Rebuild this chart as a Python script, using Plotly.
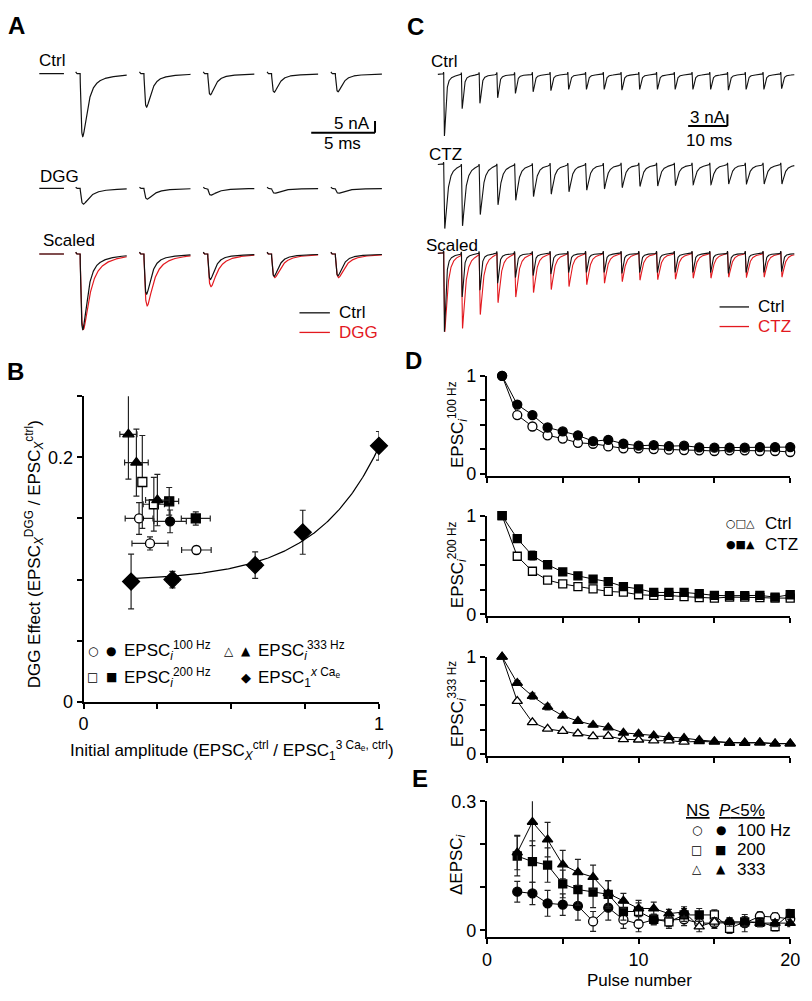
import numpy as np
import plotly.graph_objects as go

W, H = 812, 1001
FONT = "Liberation Sans, Arial, Helvetica, sans-serif"
SYM = "DejaVu Sans, sans-serif"
RED = "#e3191f"
INK = "#111111"

# ===================== DATA =====================
# Panel A: peak amplitudes (nA) of first five EPSCs, control and DGG
a_ctrl_amp = [26.7, 14.2, 9.0, 7.9, 7.7]
a_dgg_amp = [6.7, 4.6, 2.9, 2.1, 2.1]

# Panel C: peak amplitudes (nA) of 20 EPSCs in a train, control and CTZ
c_ctrl_amp = [15.7, 8.6, 7.3, 5.9, 4.8, 4.4, 4.1, 3.8, 3.8, 3.8,
              4.0, 3.8, 3.8, 3.8, 3.8, 3.8, 4.0, 3.8, 3.8, 3.6]
c_ctz_amp = [16.3, 15.2, 12.3, 9.9, 8.8, 7.9, 7.3, 6.7, 6.3, 6.0,
             5.7, 5.4, 5.3, 5.2, 5.0, 5.0, 4.8, 4.8, 4.8, 4.8]

# Panel B: DGG effect vs initial amplitude
b100_open_x = [0.188, 0.225, 0.382]
b100_open_y = [0.150, 0.1296, 0.1242]
b100_open_xe = [0.047, 0.061, 0.050]
b100_open_ye = [0.013, 0.0054, 0.003]
b100_fill_x = [0.293]
b100_fill_y = [0.1476]
b100_fill_xe = [0.055]
b100_fill_ye = [0.0093]
b200_open_x = [0.199, 0.238]
b200_open_y = [0.1798, 0.1616]
b200_open_xe = [0.010, 0.036]
b200_open_ye = [0.038, 0.022]
b200_fill_x = [0.290, 0.380]
b200_fill_y = [0.164, 0.150]
b200_fill_xe = [0.032, 0.049]
b200_fill_ye = [0.0113, 0.0054]
b333_fill_x = [0.152, 0.179, 0.250]
b333_fill_y = [0.2188, 0.1957, 0.165]
b333_fill_xe = [0.029, 0.040, 0.040]
b333_fill_ye = [0.0366, 0.0274, 0.021]
bca_x = [0.161, 0.301, 0.581, 0.742, 1.0]
bca_y = [0.0984, 0.100, 0.1118, 0.1387, 0.2094]
bca_xe = [0.004, 0.020, 0.020, 0.017, 0.004]
bca_ye = [0.0224, 0.0067, 0.0108, 0.018, 0.0117]
# exponential fit through the x Ca_e points: y = y0 + a*exp(x/tau)
fit_y0, fit_a, fit_tau, fit_x0 = 0.0985, 0.00105, 0.215, 0.161

# Panel D: normalized EPSC_i, pulses 1..20
pulses = list(range(1, 21))
d100_ctrl = [1, 0.60, 0.483, 0.393, 0.36, 0.317, 0.307, 0.28, 0.26, 0.26,
             0.253, 0.247, 0.243, 0.24, 0.233, 0.24, 0.24, 0.233, 0.233, 0.223]
d100_ctz = [1, 0.707, 0.60, 0.473, 0.433, 0.393, 0.333, 0.347, 0.307, 0.287,
            0.293, 0.283, 0.287, 0.27, 0.267, 0.267, 0.267, 0.273, 0.273, 0.273]
d200_ctrl = [1, 0.589, 0.437, 0.348, 0.308, 0.281, 0.258, 0.232, 0.225, 0.199,
             0.192, 0.192, 0.179, 0.17, 0.165, 0.175, 0.175, 0.17, 0.165, 0.165]
d200_ctz = [1, 0.768, 0.596, 0.503, 0.43, 0.39, 0.358, 0.331, 0.281, 0.258,
            0.222, 0.222, 0.222, 0.209, 0.192, 0.189, 0.189, 0.192, 0.175, 0.199]
d333_ctrl = [1, 0.545, 0.327, 0.259, 0.236, 0.212, 0.182, 0.185, 0.152, 0.148,
             0.138, 0.138, 0.125, 0.131, 0.125, 0.114, 0.114, 0.118, 0.108, 0.108]
d333_ctz = [1, 0.731, 0.596, 0.485, 0.394, 0.34, 0.30, 0.273, 0.219, 0.209,
            0.192, 0.175, 0.165, 0.145, 0.131, 0.118, 0.118, 0.118, 0.108, 0.108]
d_ctrl_err = [0, 0.015, 0.012, 0.01, 0.01, 0.01, 0.01, 0.01, 0.008, 0.008,
              0.008, 0.008, 0.008, 0.008, 0.008, 0.008, 0.008, 0.008, 0.008, 0.008]
d100_ctz_err = [0, 0.012, 0.015, 0.015, 0.012, 0.012, 0.01, 0.012, 0.01, 0.01,
                0.01, 0.01, 0.01, 0.01, 0.01, 0.01, 0.01, 0.01, 0.01, 0.01]
d200_ctz_err = [0, 0.02, 0.045, 0.03, 0.02, 0.02, 0.015, 0.015, 0.012, 0.012,
                0.01, 0.01, 0.01, 0.01, 0.01, 0.01, 0.01, 0.01, 0.01, 0.01]
d333_ctz_err = [0, 0.025, 0.03, 0.03, 0.02, 0.015, 0.015, 0.012, 0.012, 0.01,
                0.01, 0.01, 0.01, 0.01, 0.01, 0.01, 0.01, 0.01, 0.01, 0.01]

# Panel E: delta EPSC_i (CTZ - Ctrl), pulses 2..20
e_pulses = list(range(2, 21))
e100 = [0.090, 0.086, 0.063, 0.060, 0.057, 0.021, 0.053, 0.025, 0.015, 0.025,
        0.024, 0.026, 0.017, 0.017, 0.018, 0.017, 0.033, 0.031, 0.027]
e100_err = [0.024, 0.026, 0.030, 0.025, 0.033, 0.023, 0.029, 0.020, 0.018, 0.012,
            0.015, 0.015, 0.012, 0.012, 0.010, 0.020, 0.010, 0.010, 0.010]
e100_sig = [1, 1, 1, 1, 1, 0, 1, 0, 0, 1, 0, 0, 0, 0, 1, 1, 0, 0, 0]
e200 = [0.173, 0.160, 0.152, 0.108, 0.095, 0.089, 0.084, 0.044, 0.044, 0.026,
        0.020, 0.036, 0.036, 0.036, 0.005, 0.020, 0.019, 0.009, 0.039]
e200_err = [0.046, 0.048, 0.040, 0.032, 0.036, 0.036, 0.032, 0.020, 0.020, 0.012,
            0.015, 0.015, 0.015, 0.012, 0.012, 0.012, 0.010, 0.010, 0.010]
e200_sig = [1, 1, 1, 1, 1, 1, 1, 1, 0, 1, 0, 1, 1, 0, 0, 1, 1, 0, 1]
e333 = [0.181, 0.252, 0.211, 0.153, 0.135, 0.124, 0.086, 0.069, 0.051, 0.051,
        0.039, 0.043, 0.009, 0.020, 0.020, 0.020, 0.017, 0.017, 0.017]
e333_err = [0.040, 0.055, 0.040, 0.033, 0.030, 0.028, 0.030, 0.017, 0.019, 0.015,
            0.010, 0.012, 0.012, 0.010, 0.010, 0.010, 0.008, 0.008, 0.008]
e333_sig = [1, 1, 1, 1, 1, 1, 1, 1, 1, 1, 1, 1, 0, 0, 1, 1, 1, 1, 1]

# ===================== waveform helpers =====================
# kernel parameters: (rise tau, decay tau, slow fraction, slow tau) in ms
K_A_CTRL = (0.12, 0.33, 0.10, 1.5)
K_A_DGG = (0.14, 0.42, 0.18, 1.5)
K_C_CTRL = (0.10, 0.30, 0.08, 1.5)
K_C_CTZ = (0.12, 0.62, 0.15, 2.0)


def shape(t, k):
    tr, td, fs, ts = k
    tt = np.maximum(t, 0.0)
    f = (1 - fs) * (np.exp(-tt / td) - np.exp(-tt / tr)) + fs * (np.exp(-tt / ts) - np.exp(-tt / tr))
    g = np.arange(0, 20, 0.002)
    gg = (1 - fs) * (np.exp(-g / td) - np.exp(-g / tr)) + fs * (np.exp(-g / ts) - np.exp(-g / tr))
    return f / gg.max()


A_SPACING, A_LEN, A_DELAY = 5.0, 4.0, 0.35      # ms
A_PRE = (-2.85, -0.92)                          # ms, pre-stimulus baseline segment
C_ISI, C_START, C_END = 4.52, -1.5, 89.3        # ms


def a_sweeps(amps, k, art):
    ts, ys = [A_PRE[0], A_PRE[1], None], [0, 0, None]
    t = np.arange(0, A_LEN + 1e-9, 0.01)
    for i, amp in enumerate(amps):
        y = -amp * shape(t - A_DELAY, k) + art * np.exp(-t / 0.04)
        ts += list(t + i * A_SPACING) + [None]
        ys += list(y) + [None]
    return ts, ys


def c_train(amps, k, art):
    t = np.arange(C_START, C_END, 0.01)
    y = np.zeros_like(t)
    for i, amp in enumerate(amps):
        on = i * C_ISI
        y += -amp * shape(t - on, k)
        y += art * np.exp(-((t - on + 0.05) / 0.07) ** 2)
    return t, y


# ===================== figure =====================
fig = go.Figure()
layout = dict(width=W, height=H, margin=dict(l=0, r=0, t=0, b=0, pad=0), autosize=False,
              paper_bgcolor="white", plot_bgcolor="rgba(0,0,0,0)", showlegend=False,
              font=dict(family=FONT, size=17, color="black"))


def px(p):
    return p / W


def py(p):
    return 1 - p / H


def dx(p0, p1):
    return [px(p0), px(p1)]


def dy(top, bot):
    return [py(bot), py(top)]


# trace rows: n, x0px, x1px, t0px, px/ms, top, bottom, baseline, px/unit
rows = {
    "a_ctrl": (1, 30, 400, 72, 13.0, 45, 140, 65, 2.4),
    "a_dgg": (2, 30, 400, 72, 13.0, 160, 215, 182, 2.4),
    "a_scl": (3, 30, 400, 72, 13.0, 225, 345, 249, 77.0),
    "c_ctrl": (4, 425, 808, 447, 4.0, 50, 135, 65.7, 4.0),
    "c_ctz": (5, 425, 808, 447, 4.0, 145, 232, 157.7, 4.0),
    "c_scl": (6, 425, 808, 447, 4.0, 236, 336, 248.3, 80.0),
}
hidden = dict(visible=False, fixedrange=True, showgrid=False, zeroline=False)
for key, (n, x0, x1, t0, ppm, top, bot, base, ppu) in rows.items():
    sx = "" if n == 1 else str(n)
    layout["xaxis" + sx] = dict(hidden, domain=dx(x0, x1), range=[(x0 - t0) / ppm, (x1 - t0) / ppm], anchor="y" + sx)
    layout["yaxis" + sx] = dict(hidden, domain=dy(top, bot), range=[-(bot - base) / ppu, (base - top) / ppu], anchor="x" + sx)


def line_trace(t, y, n, color, width=1.2):
    sx = "" if n == 1 else str(n)
    fig.add_trace(go.Scatter(x=t, y=y, mode="lines", line=dict(color=color, width=width), cliponaxis=False,
                             xaxis="x" + sx, yaxis="y" + sx, hoverinfo="skip", connectgaps=False))


# Panel A traces
t, y = a_sweeps(a_ctrl_amp, K_A_CTRL, 0.8)
line_trace(t, y, 1, INK)
t, y = a_sweeps(a_dgg_amp, K_A_DGG, 0.5)
line_trace(t, y, 2, INK)
a_ctrl_norm = [v / a_ctrl_amp[0] for v in a_ctrl_amp]
a_dgg_norm = [v / a_dgg_amp[0] for v in a_dgg_amp]
t, y = a_sweeps(a_dgg_norm, K_A_DGG, 0.02)
line_trace(t, y, 3, RED)
t, y = a_sweeps(a_ctrl_norm, K_A_CTRL, 0.025)
line_trace(t, y, 3, INK)

# Panel C traces
t, y = c_train(c_ctrl_amp, K_C_CTRL, 0.6)
line_trace(t, y, 4, INK, 1.1)
t, y = c_train(c_ctz_amp, K_C_CTZ, 0.6)
line_trace(t, y, 5, INK, 1.1)
c_ctrl_norm = [v / c_ctrl_amp[0] for v in c_ctrl_amp]
c_ctz_norm = [v / c_ctz_amp[0] for v in c_ctz_amp]
t, y = c_train(c_ctz_norm, K_C_CTZ, 0.03)
line_trace(t, y, 6, RED, 1.1)
t, y = c_train(c_ctrl_norm, K_C_CTRL, 0.03)
line_trace(t, y, 6, INK, 1.1)

shapes = []
# scale bars (data units of the control rows)
A_SB = dict(t=18.46, y=-25.1, dt=5.0, dv=5.0)
C_SB = dict(t=62.25, y=-13.15, dt=10.0, dv=3.0)
for sb, n in ((A_SB, ""), (C_SB, "4")):
    shapes.append(dict(type="line", xref="x" + n, yref="y" + n, x0=sb["t"], x1=sb["t"] + sb["dt"],
                       y0=sb["y"], y1=sb["y"], line=dict(color="black", width=2)))
    shapes.append(dict(type="line", xref="x" + n, yref="y" + n, x0=sb["t"] + sb["dt"], x1=sb["t"] + sb["dt"],
                       y0=sb["y"], y1=sb["y"] + sb["dv"], line=dict(color="black", width=2)))

# ---------- axes for B, D, E ----------
axis_common = dict(showline=True, linewidth=2, linecolor="black", ticks="outside", ticklen=5,
                   tickwidth=2, tickcolor="black", showgrid=False, zeroline=False, fixedrange=True,
                   tickfont=dict(size=18, family=FONT, color="black"))
layout["xaxis7"] = dict(axis_common, domain=dx(80, 381), range=[0, 1], anchor="y7",
                        tickvals=[0, 0.25, 0.5, 0.75, 1], ticktext=["0", "", "", "", "1"])
layout["yaxis7"] = dict(axis_common, domain=dy(394, 706), range=[0, 0.25], anchor="x7",
                        tickvals=[0, 0.05, 0.1, 0.15, 0.2, 0.25], ticktext=["0", "", "", "", "0.2", ""])

d_rows = {8: (373.3, 475.0), 9: (516.0, 618.4), 10: (660.0, 761.0)}
for n, (top, bot) in d_rows.items():
    layout["xaxis%d" % n] = dict(axis_common, domain=dx(491, 800), range=[0, 20], anchor="y%d" % n,
                                 tickvals=[0, 5, 10, 15, 20], showticklabels=False)
    layout["yaxis%d" % n] = dict(axis_common, domain=dy(top, bot), range=[-0.017, 1], anchor="x%d" % n,
                                 tickvals=[0, 0.25, 0.5, 0.75, 1], ticktext=["0", "", "", "", "1"])
layout["xaxis11"] = dict(axis_common, domain=dx(491, 800), range=[0, 20], anchor="y11",
                         tickvals=[0, 5, 10, 15, 20], ticktext=["0", "", "10", "", "20"])
layout["yaxis11"] = dict(axis_common, domain=dy(807.5, 946), range=[-0.0155, 0.3], anchor="x11",
                         tickvals=[0, 0.1, 0.2, 0.3], ticktext=["0", "", "", "0.3"])


def err(arr, w=3):
    return dict(type="data", array=arr, visible=True, width=w, thickness=1.2, color="#222")


def pts(x, y, n, symbol, filled, size, ex=None, ey=None, mode="markers"):
    fig.add_trace(go.Scatter(
        x=x, y=y, mode=mode, xaxis="x%d" % n, yaxis="y%d" % n, cliponaxis=False,
        line=dict(color="black", width=1),
        marker=dict(symbol=symbol, size=size, color=("black" if filled else "white"),
                    line=dict(color="black", width=1.3)),
        error_x=err(ex) if ex is not None else None,
        error_y=err(ey) if ey is not None else None, hoverinfo="skip"))


# Panel B
fx = np.linspace(fit_x0, 1.0, 200)
fig.add_trace(go.Scatter(x=fx, y=fit_y0 + fit_a * np.exp(fx / fit_tau), mode="lines",
                         line=dict(color="black", width=1.2), xaxis="x7", yaxis="y7", hoverinfo="skip"))
pts(bca_x, bca_y, 7, "diamond", True, 13, bca_xe, bca_ye)
pts(b100_open_x, b100_open_y, 7, "circle", False, 9, b100_open_xe, b100_open_ye)
pts(b200_open_x, b200_open_y, 7, "square", False, 9, b200_open_xe, b200_open_ye)
pts(b100_fill_x, b100_fill_y, 7, "circle", True, 9, b100_fill_xe, b100_fill_ye)
pts(b200_fill_x, b200_fill_y, 7, "square", True, 9, b200_fill_xe, b200_fill_ye)
pts(b333_fill_x, b333_fill_y, 7, "triangle-up", True, 10, b333_fill_xe, b333_fill_ye)

# Panel D
pts(pulses, d100_ctrl, 8, "circle", False, 9, None, d_ctrl_err, "lines+markers")
pts(pulses, d100_ctz, 8, "circle", True, 9, None, d100_ctz_err, "lines+markers")
pts(pulses, d200_ctrl, 9, "square", False, 8, None, d_ctrl_err, "lines+markers")
pts(pulses, d200_ctz, 9, "square", True, 8, None, d200_ctz_err, "lines+markers")
pts(pulses, d333_ctrl, 10, "triangle-up", False, 9, None, d_ctrl_err, "lines+markers")
pts(pulses, d333_ctz, 10, "triangle-up", True, 9, None, d333_ctz_err, "lines+markers")

# Panel E
for ys, es, sig, sym, sz in ((e100, e100_err, e100_sig, "circle", 9),
                             (e200, e200_err, e200_sig, "square", 8),
                             (e333, e333_err, e333_sig, "triangle-up", 9)):
    fig.add_trace(go.Scatter(
        x=e_pulses, y=ys, mode="lines+markers", xaxis="x11", yaxis="y11", cliponaxis=False,
        line=dict(color="black", width=1),
        marker=dict(symbol=sym, size=sz, color=["black" if s else "white" for s in sig],
                    line=dict(color="black", width=1.3)),
        error_y=err(es), hoverinfo="skip"))

# ---------- text ----------
annotations = []


def text(s, x, y, size=17, xanchor="left", yanchor="middle", color="black", angle=0, family=FONT):
    annotations.append(dict(text=s, x=px(x), y=py(y), xref="paper", yref="paper", showarrow=False,
                            xanchor=xanchor, yanchor=yanchor, textangle=angle, borderpad=0,
                            font=dict(size=size, color=color, family=family)))


for s, x, y in (("A", 2, 16), ("C", 409, 17), ("B", 1, 369), ("D", 407, 358), ("E", 414, 784)):
    text("<b>%s</b>" % s, x, y, size=24)

# Panel A text
text("Ctrl", 34, 52, 17)
text("DGG", 35, 170, 17)
text("Scaled", 38, 235, 17)
text("5 nA", 373, 116, 17, xanchor="right")
text("5 ms", 344, 136, 17, xanchor="center")
text("Ctrl", 339, 309, 17)
text("DGG", 339, 329, 17, color=RED)
for yy, col in ((309, INK), (329, RED)):
    shapes.append(dict(type="line", xref="paper", yref="paper", x0=px(300), x1=px(331), y0=py(yy), y1=py(yy),
                       line=dict(color=col, width=1.3)))

# Panel C text
text("Ctrl", 433, 53, 17)
text("CTZ", 431, 147, 17)
text("Scaled", 428, 240, 17)
text("3 nA", 716, 110, 17, xanchor="center")
text("10 ms", 717, 133, 17, xanchor="center")
text("Ctrl", 766, 303, 17)
text("CTZ", 766, 323, 17, color=RED)
for yy, col in ((303, INK), (323, RED)):
    shapes.append(dict(type="line", xref="paper", yref="paper", x0=px(728), x1=px(758), y0=py(yy), y1=py(yy),
                       line=dict(color=col, width=1.3)))

# Panel B titles & legend
text("DGG Effect (EPSC<sub><i>X</i></sub><sup>DGG</sup> / EPSC<sub><i>X</i></sub><sup>ctrl</sup>)",
     30, 555, 17, xanchor="center", angle=-90)
text("Initial amplitude (EPSC<sub><i>X</i></sub><sup>ctrl</sup> / EPSC<sub>1</sub><sup>3 Ca<sub>e</sub>, ctrl</sup>)",
     231, 756, 17, xanchor="center")
text("○", 90, 654, 12, xanchor="center", family=SYM)
text("●", 108, 654, 12, xanchor="center", family=SYM)
text("EPSC<sub><i>i</i></sub><sup>100 Hz</sup>", 120, 654, 17)
text("□", 89, 681, 12, xanchor="center", family=SYM)
text("■", 108, 681, 12, xanchor="center", family=SYM)
text("EPSC<sub><i>i</i></sub><sup>200 Hz</sup>", 120, 681, 17)
text("△", 228, 654, 12, xanchor="center", family=SYM)
text("▲", 246, 654, 12, xanchor="center", family=SYM)
text("EPSC<sub><i>i</i></sub><sup>333 Hz</sup>", 257, 654, 17)
text("◆", 246, 681, 13, xanchor="center", family=SYM)
text("EPSC<sub>1</sub><sup><i>x</i> Ca<sub>e</sub></sup>", 257, 681, 17)

# Panel D titles & legend
text("EPSC<sub><i>i</i></sub><sup>100 Hz</sup>", 461, 423, 17, xanchor="center", angle=-90)
text("EPSC<sub><i>i</i></sub><sup>200 Hz</sup>", 461, 566, 17, xanchor="center", angle=-90)
text("EPSC<sub><i>i</i></sub><sup>333 Hz</sup>", 461, 708, 17, xanchor="center", angle=-90)
text("○□△", 749, 524, 11, xanchor="center", family=SYM)
text("●■▲", 749, 545, 11, xanchor="center", family=SYM)
text("Ctrl", 773, 524, 17)
text("CTZ", 773, 545, 17)

# Panel E titles & legend
text("ΔEPSC<sub><i>i</i></sub>", 461, 872, 17, xanchor="center", angle=-90)
text("Pulse number", 646, 990, 17, xanchor="center")
text("<u>NS</u>", 706, 817, 17, xanchor="center")
text("<u><i>P</i>&lt;5%</u>", 751, 817, 17, xanchor="center")
for (o, f, lab, yy) in (("○", "●", "100 Hz", 837), ("□", "■", "200", 857), ("△", "▲", "333", 877)):
    text(o, 705, yy, 12, xanchor="center", family=SYM)
    text(f, 729, yy, 12, xanchor="center", family=SYM)
    text(lab, 745, yy, 17)

layout["annotations"] = annotations
layout["shapes"] = shapes
fig.update_layout(**layout)
fig.write_html(
    "out.html",
    config={"displayModeBar": False, "staticPlot": True},
    post_script=("var d=document.getElementById('{plot_id}');"
                 "d.style.position='fixed';d.style.left='0px';d.style.top='0px';d.style.margin='0px';"
                 "document.documentElement.style.margin='0';document.body.style.margin='0';"
                 "document.body.style.padding='0';"),
)
